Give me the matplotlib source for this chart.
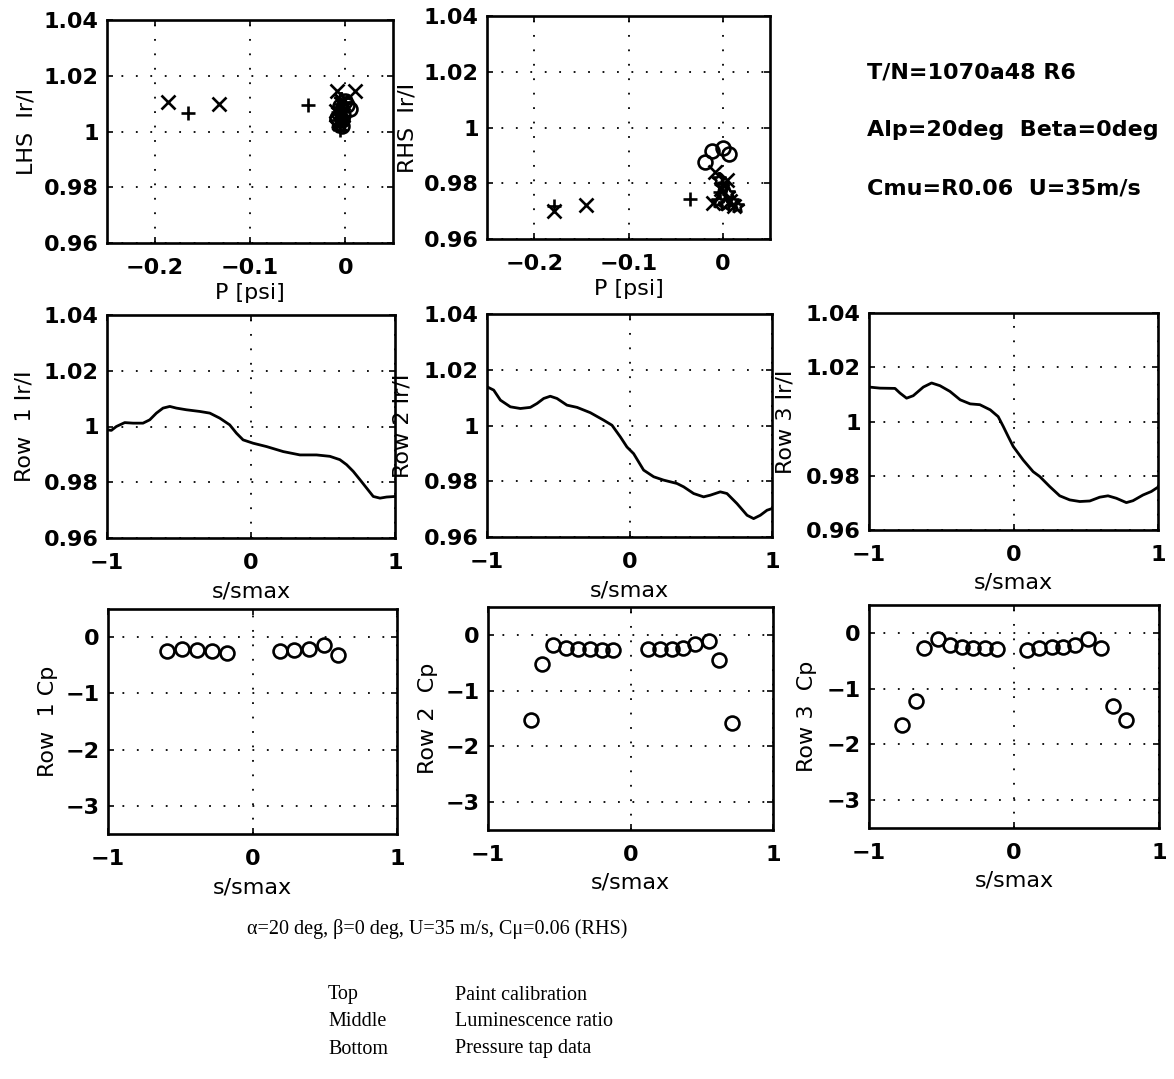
import numpy as np
import matplotlib
matplotlib.use("Agg")
import matplotlib.pyplot as plt
from matplotlib.ticker import FuncFormatter

plt.rcParams['font.family'] = ['DejaVu Sans']
plt.rcParams['font.weight'] = 'bold'
plt.rcParams['font.size'] = 16

W, H = 1174, 1079

# --- paint calibration (top row) ---
lhs_plus_p = [-0.165, -0.039, -0.006, -0.004, -0.008, -0.005, -0.002]
lhs_plus_r = [1.0068, 1.0094, 1.0005, 1.004, 1.007, 1.010, 1.0085]
lhs_x_p = [-0.186, -0.132, -0.009, 0.010, -0.004, -0.002, -0.007, -0.010]
lhs_x_r = [1.0105, 1.0097, 1.0145, 1.0145, 1.011, 1.006, 1.003, 1.0075]
lhs_o_p = [0.005, -0.002, -0.004, -0.006, 0.0, -0.003, -0.009, 0.002]
lhs_o_r = [1.008, 1.006, 1.004, 1.009, 1.011, 1.002, 1.005, 1.0095]
lhs_s_p = [-0.006, -0.003, -0.008, -0.001, -0.010, -0.005]
lhs_s_r = [1.002, 1.005, 1.008, 1.010, 1.0035, 1.0115]

rhs_plus_p = [-0.179, -0.035, -0.003]
rhs_plus_r = [0.9718, 0.9745, 0.977]
rhs_x_p = [-0.179, -0.145, -0.008, 0.004, -0.002, 0.008, -0.010, 0.012]
rhs_x_r = [0.9700, 0.9722, 0.984, 0.981, 0.978, 0.9735, 0.973, 0.972]
rhs_o_p = [-0.019, -0.012, 0.000, 0.007]
rhs_o_r = [0.9876, 0.9916, 0.9927, 0.9905]
rhs_s_p = [-0.005, 0.002, 0.010, -0.001, 0.005, 0.015, -0.004]
rhs_s_r = [0.9735, 0.9725, 0.9735, 0.979, 0.9765, 0.972, 0.9815]

# --- luminescence ratio (middle row) ---
row1_s = [-0.995, -0.970, -0.935, -0.877, -0.819, -0.750, -0.703, -0.657, -0.611, -0.564,
          -0.518, -0.449, -0.356, -0.286, -0.217, -0.148, -0.101, -0.055, 0.015, 0.108,
          0.224, 0.340, 0.455, 0.548, 0.617, 0.664, 0.710, 0.757, 0.803, 0.849, 0.896, 0.942, 1.0]
row1_r = [0.9988, 0.9986, 1.0000, 1.0014, 1.0012, 1.0012, 1.0024, 1.0048, 1.0066, 1.0072,
          1.0066, 1.0060, 1.0054, 1.0048, 1.0030, 1.0006, 0.9976, 0.9952, 0.9940, 0.9928,
          0.9910, 0.9898, 0.9898, 0.9893, 0.9881, 0.9863, 0.9839, 0.9809, 0.9779, 0.9749,
          0.9743, 0.9747, 0.9749]
row2_s = [-1.0, -0.953, -0.906, -0.836, -0.766, -0.696, -0.649, -0.602, -0.556, -0.509,
          -0.439, -0.368, -0.275, -0.181, -0.123, -0.064, -0.018, 0.029, 0.099, 0.170,
          0.240, 0.333, 0.380, 0.450, 0.520, 0.567, 0.637, 0.684, 0.754, 0.825, 0.871,
          0.918, 0.965, 1.0]
row2_r = [1.0139, 1.0127, 1.0091, 1.0067, 1.0061, 1.0065, 1.0079, 1.0097, 1.0105, 1.0097,
          1.0073, 1.0065, 1.0046, 1.0019, 1.0001, 0.9959, 0.9923, 0.9899, 0.9840, 0.9816,
          0.9804, 0.9792, 0.9780, 0.9756, 0.9744, 0.9750, 0.9762, 0.9756, 0.9720, 0.9678,
          0.9666, 0.9678, 0.9696, 0.9702]
row3_s = [-1.0, -0.924, -0.820, -0.786, -0.740, -0.694, -0.624, -0.567, -0.509, -0.440,
          -0.369, -0.300, -0.233, -0.161, -0.106, -0.071, -0.037, -0.002, 0.067, 0.136,
          0.182, 0.251, 0.320, 0.389, 0.459, 0.528, 0.597, 0.654, 0.712, 0.781, 0.827,
          0.896, 0.954, 1.0]
row3_r = [1.0127, 1.0123, 1.0122, 1.0105, 1.0086, 1.0095, 1.0127, 1.0142, 1.0132, 1.0111,
          1.0080, 1.0065, 1.0062, 1.0043, 1.0018, 0.9982, 0.9945, 0.9908, 0.9858, 0.9815,
          0.9797, 0.9760, 0.9726, 0.9711, 0.9705, 0.9707, 0.9721, 0.9726, 0.9717, 0.9701,
          0.9708, 0.9729, 0.9742, 0.9758]

# --- pressure taps (bottom row) ---
cp1_s = [-0.595, -0.487, -0.383, -0.281, -0.179, 0.191, 0.288, 0.392, 0.492, 0.595]
cp1 = [-0.254, -0.207, -0.237, -0.254, -0.278, -0.254, -0.237, -0.207, -0.136, -0.325]
cp2_s = [-0.700, -0.621, -0.543, -0.456, -0.367, -0.285, -0.203, -0.121,
         0.125, 0.207, 0.289, 0.371, 0.454, 0.548, 0.623, 0.712]
cp2 = [-1.530, -0.530, -0.190, -0.232, -0.250, -0.262, -0.268, -0.268,
       -0.250, -0.262, -0.262, -0.232, -0.161, -0.101, -0.458, -1.589]
cp3_s = [-0.775, -0.678, -0.619, -0.522, -0.442, -0.362, -0.281, -0.201, -0.114,
         0.093, 0.174, 0.259, 0.339, 0.420, 0.511, 0.598, 0.683, 0.770]
cp3 = [-1.644, -1.225, -0.269, -0.108, -0.209, -0.251, -0.269, -0.269, -0.281,
       -0.299, -0.269, -0.257, -0.251, -0.209, -0.108, -0.269, -1.315, -1.554]

ir_ticks = [0.96, 0.98, 1.0, 1.02, 1.04]
cp_ticks = [-3, -2, -1, 0]

fig = plt.figure(figsize=(W / 100, H / 100), dpi=100)


def make_ax(l, r, t, b):
    ax = fig.add_axes([l / W, 1 - b / H, (r - l) / W, (b - t) / H])
    for sp in ax.spines.values():
        sp.set_linewidth(1.9)
    ax.tick_params(direction='in', length=4, width=1.2, top=True, right=True,
                   labelsize=16, pad=11)
    ax.tick_params(axis='y', pad=6)
    ax.grid(True, color='black', linestyle=(0, (1, 7)), linewidth=1.3)
    return ax


def fmt(v, pos):
    return ('%g' % v).replace('-', '\u2212')


def ylab(ax, text, x):
    ax.set_ylabel(text, fontsize=16)
    ax.yaxis.set_label_coords(x, 0.5)
    ax.yaxis.label.set_va('center')


def xlab(ax, text, y):
    ax.set_xlabel(text, fontsize=16)
    ax.xaxis.set_label_coords(0.5, y)
    ax.xaxis.label.set_va('center')


mk = dict(color='black', linestyle='none', markerfacecolor='none', markeredgewidth=1.9, markersize=10)

# top row
for (l, r, t, b), name, data in [
        ((107, 393, 20, 243), 'LHS  Ir/I',
         (lhs_plus_p, lhs_plus_r, lhs_x_p, lhs_x_r, lhs_o_p, lhs_o_r, lhs_s_p, lhs_s_r)),
        ((487, 770, 16, 239), 'RHS  Ir/I',
         (rhs_plus_p, rhs_plus_r, rhs_x_p, rhs_x_r, rhs_o_p, rhs_o_r, rhs_s_p, rhs_s_r))]:
    ax = make_ax(l, r, t, b)
    ax.plot(data[6], data[7], marker='*', **mk)
    ax.plot(data[4], data[5], marker='o', **mk)
    ax.plot(data[0], data[1], marker='+', **mk)
    ax.plot(data[2], data[3], marker='x', **mk)
    ax.set_xlim(-0.25, 0.05)
    ax.set_ylim(0.96, 1.04)
    ax.set_xticks([-0.2, -0.1, 0])
    ax.set_yticks(ir_ticks)
    ax.xaxis.set_major_formatter(FuncFormatter(fmt))
    ax.yaxis.set_major_formatter(FuncFormatter(fmt))
    ylab(ax, name, -0.28)
    xlab(ax, 'P [psi]', -0.224)

# middle row
mid_boxes = [(107, 395, 315, 538), (487, 772, 314, 537), (869, 1158, 313, 530)]
mid_labels = ['Row  1 Ir/I', 'Row 2 Ir/I', 'Row 3 Ir/I']
mid_lx = [-0.285, -0.295, -0.29]
for box, lab, lx, s, r in zip(mid_boxes, mid_labels, mid_lx,
                              [row1_s, row2_s, row3_s], [row1_r, row2_r, row3_r]):
    ax = make_ax(*box)
    ax.plot(s, r, color='black', linewidth=2.0, solid_joinstyle='round')
    ax.set_xlim(-1, 1)
    ax.set_ylim(0.96, 1.04)
    ax.set_xticks([-1, 0, 1])
    ax.set_yticks(ir_ticks)
    ax.xaxis.set_major_formatter(FuncFormatter(fmt))
    ax.yaxis.set_major_formatter(FuncFormatter(fmt))
    ylab(ax, lab, lx)
    xlab(ax, 's/smax', -0.242)

# bottom row
bot_boxes = [(108, 397, 609, 834), (488, 773, 607, 830), (869, 1159, 605, 828)]
bot_labels = ['Row  1 Cp', 'Row 2  Cp', 'Row 3  Cp']
bot_lx = [-0.208, -0.21, -0.214]
for box, lab, lx, s, c in zip(bot_boxes, bot_labels, bot_lx,
                              [cp1_s, cp2_s, cp3_s], [cp1, cp2, cp3]):
    ax = make_ax(*box)
    ax.plot(s, c, marker='o', **mk)
    ax.set_xlim(-1, 1)
    ax.set_ylim(-3.5, 0.5)
    ax.set_xticks([-1, 0, 1])
    ax.set_yticks(cp_ticks)
    ax.xaxis.set_major_formatter(FuncFormatter(fmt))
    ax.yaxis.set_major_formatter(FuncFormatter(fmt))
    ylab(ax, lab, lx)
    xlab(ax, 's/smax', -0.236)

# run info
info = ['T/N=1070a48 R6', 'Alp=20deg  Beta=0deg', 'Cmu=R0.06  U=35m/s']
for txt, yp in zip(info, [72, 130, 188]):
    fig.text(867 / W, 1 - yp / H, txt, ha='left', va='center', fontsize=16)

# caption
serif = dict(family='Liberation Serif', weight='normal', fontsize=14.5)
fig.text(247 / W, 1 - 929 / H, '\u03b1=20 deg, \u03b2=0 deg, U=35 m/s, C\u03bc=0.06 (RHS)',
         ha='left', va='center', **serif)
key_left = ['Top', 'Middle', 'Bottom']
key_right = ['Paint calibration', 'Luminescence ratio', 'Pressure tap data']
for a, b_, yp in zip(key_left, key_right, [995, 1022, 1049]):
    fig.text(328 / W, 1 - yp / H, a, ha='left', va='center', **serif)
    fig.text(455 / W, 1 - yp / H, b_, ha='left', va='center', **serif)

fig.savefig('out.png', dpi=100, facecolor='white')
